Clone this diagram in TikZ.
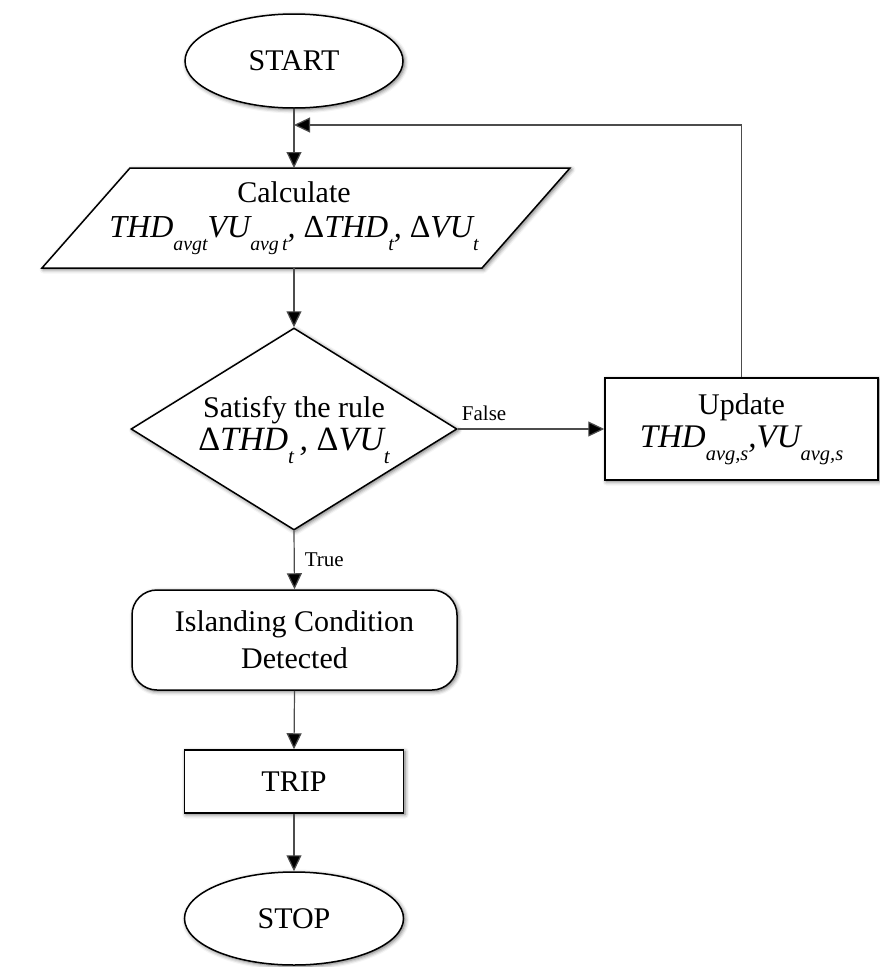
\documentclass[tikz,border=0pt]{standalone}
\usepackage{fontspec}
\usepackage{graphicx}
\setmainfont{Liberation Serif}
\usetikzlibrary{shapes.geometric,arrows.meta,shadows.blur,calc}
\newcommand\lsb[1]{\raisebox{-0.40em}{\scalebox{0.62}{\itshape #1}}}
\begin{document}
\begin{tikzpicture}[x=1pt,y=-1pt,
  shad/.style={blur shadow={shadow xshift=1.5pt, shadow yshift=-1.5pt, shadow blur radius=4pt, shadow opacity=60}},
  base/.style={draw=black, line width=1.5pt, fill=white, shad, align=center, inner sep=0pt, font=\fontsize{30}{37}\selectfont},
  conn/.style={draw=black!70, line width=1.2pt, -{Triangle[length=16pt,width=15pt,fill=black]}},
  lbl/.style={font=\fontsize{21}{24}\selectfont, inner sep=0pt}
]
\useasboundingbox (0,0) rectangle (880,967);

\node[base, ellipse, minimum width=218, minimum height=94] (start) at (294,61) {START};

% parallelogram
\filldraw[draw=black, line width=1.5pt, fill=white, shad] (130,168) -- (570,168) -- (482,268) -- (42,268) -- cycle;
\node[align=center, inner sep=0pt, minimum height=100, font=\fontsize{30}{37}\selectfont] (calc) at (294,218)
  {Calculate\\[-2pt]{\fontsize{32}{36}\selectfont\itshape THD\lsb{avgt}VU\lsb{avg\,t}, \upshape Δ\itshape THD\lsb{t}, \upshape Δ\itshape VU\lsb{t}}};

\node[base, diamond, minimum width=326, minimum height=202, aspect=1.6] (dec) at (294,429) {};
\node[align=center, inner sep=0pt, font=\fontsize{30}{37}\selectfont] (dectext) at (294,430)
  {Satisfy the rule\\[-4pt]{\fontsize{34}{38}\selectfont \upshape Δ\itshape THD\lsb{t}\,, \upshape Δ\itshape VU\lsb{t}}};

\node[base, rectangle, minimum width=273, minimum height=102] (upd) at (741.5,429)
  {Update\\[-4pt]{\fontsize{33}{36}\selectfont\itshape THD\lsb{avg,s},VU\lsb{avg,s}}};

\node[base, rectangle, rounded corners=25pt, minimum width=325, minimum height=100] (isl) at (294.5,640)
  {Islanding Condition\\Detected};

\node[base, rectangle, minimum width=219, minimum height=63] (trip) at (294,781.5) {TRIP};

\node[base, ellipse, minimum width=219, minimum height=93] (stop) at (294,918.5) {STOP};

\coordinate (fb) at (294,125);
\coordinate (calctop) at (294,168);

\draw[conn] (start) -- (calctop);
\draw[conn] (calc.south) -- (dec.north);
\draw[conn] (dec.east) -- (upd.west) node[lbl, pos=0.18, above=8pt] (flbl) {False};
\draw[conn] (upd.north) |- (fb);
\draw[conn] (dec.south) -- (isl.north) node[lbl, midway, right=10pt] (tlbl) {True};
\draw[conn] (isl.south) -- (trip.north);
\draw[conn] (trip.south) -- (stop.north);
\end{tikzpicture}
\end{document}
